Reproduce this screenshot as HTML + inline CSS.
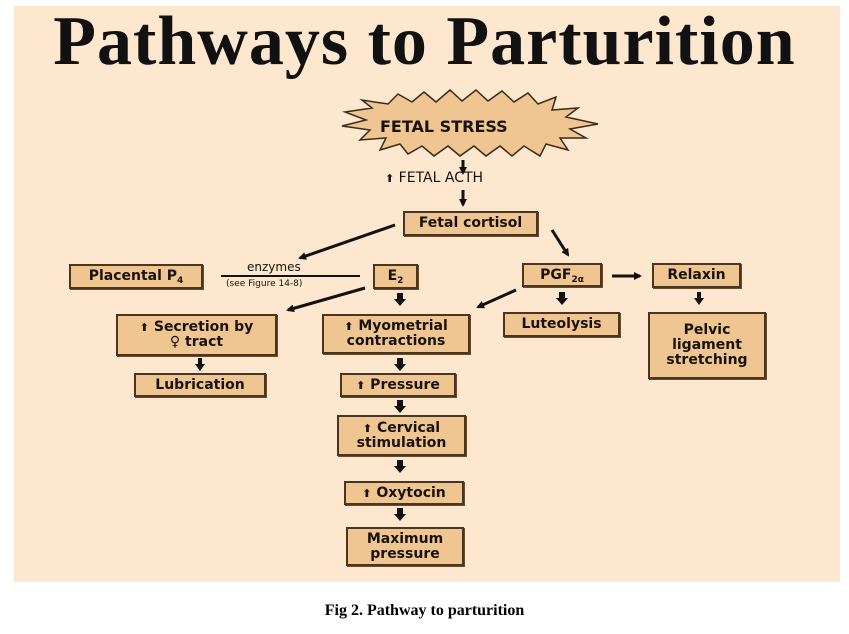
<!DOCTYPE html>
<html><head><meta charset="utf-8"><style>
body{margin:0;width:849px;height:634px;background:#fff;position:relative;overflow:hidden;font-family:"DejaVu Sans","Liberation Sans",sans-serif}
#img{position:absolute;left:14px;top:6px;width:826px;height:576px;background:#fde7cf}
.t{position:absolute;left:0;top:2px;width:849px;text-align:center;font-family:"Liberation Serif",serif;font-weight:bold;font-size:70px;color:#111;letter-spacing:1px}
.b{position:absolute;box-sizing:border-box;background:#efc592;border:2px solid #4a3520;box-shadow:1px 1px 0 #6b4b2a;display:flex;align-items:center;justify-content:center;text-align:center;font-weight:bold;font-size:14px;line-height:15px;color:#1a120a}
.l{position:absolute;font-size:14px;color:#1a120a}
.cap{position:absolute;left:0;top:602px;width:849px;text-align:center;font-family:"Liberation Serif",serif;font-weight:bold;font-size:16px}
sub{font-size:9px;vertical-align:-3px;line-height:0}
.u{font-size:11px}
</style></head><body>
<div id="img"></div>
<div class="t">Pathways to Parturition</div>
<svg style="position:absolute;left:0;top:0" width="849" height="634">
<defs><marker id="a" markerWidth="8" markerHeight="8" refX="6" refY="4" orient="auto" markerUnits="userSpaceOnUse"><path d="M0,0 L8,4 L0,8z" fill="#111"/></marker></defs>
<polygon fill="#efc592" stroke="#3a2a18" stroke-width="1.5" points="345,112 372,108 362,100 388,104 398,94 412,102 424,92 436,102 450,90 462,101 476,90 488,101 502,91 514,102 528,93 538,104 556,97 552,110 578,108 566,117 598,124 570,129 586,138 560,138 568,150 546,144 540,156 524,146 512,156 500,146 486,156 474,146 460,156 448,146 434,156 422,146 408,154 400,144 380,150 386,138 360,140 370,130 342,126 366,120"/>
<g stroke="#111" stroke-width="3" fill="none">
<line x1="463" y1="160" x2="463" y2="173" marker-end="url(#a)"/>
<line x1="463" y1="190" x2="463" y2="205" marker-end="url(#a)"/>
<line x1="395" y1="225" x2="300" y2="258" marker-end="url(#a)"/>
<line x1="552" y1="230" x2="568" y2="255" marker-end="url(#a)"/>
<line x1="365" y1="288" x2="288" y2="310" marker-end="url(#a)"/>
<line x1="516" y1="290" x2="478" y2="307" marker-end="url(#a)"/>
<line x1="612" y1="276" x2="640" y2="276" marker-end="url(#a)"/>
<line x1="221" y1="276" x2="360" y2="276" stroke-width="2"/>
</g>
<g fill="#111">
<path d="M397,293 h6 v6 h3 l-6,7 l-6,-7 h3z"/>
<path d="M559,292 h6 v6 h3 l-6,7 l-6,-7 h3z"/>
<path d="M697,292 h4 v6 h3 l-5,7 l-5,-7 h3z"/>
<path d="M198,358 h4 v6 h3 l-5,7 l-5,-7 h3z"/>
<path d="M397,358 h6 v6 h3 l-6,7 l-6,-7 h3z"/>
<path d="M397,400 h6 v6 h3 l-6,7 l-6,-7 h3z"/>
<path d="M397,460 h6 v6 h3 l-6,7 l-6,-7 h3z"/>
<path d="M397,508 h6 v6 h3 l-6,7 l-6,-7 h3z"/>
</g>
</svg>
<div class="l" style="left:380px;top:117px;font-weight:bold;font-size:16px">FETAL STRESS</div>
<div class="l" style="left:385px;top:170px;font-size:14px"><span class="u">⬆</span> FETAL ACTH</div>
<div class="l" style="left:247px;top:260px;font-size:12px">enzymes</div>
<div class="l" style="left:226px;top:279px;font-size:9px">(see Figure 14-8)</div>
<div class="b" style="left:403px;top:211px;width:135px;height:25px">Fetal cortisol</div>
<div class="b" style="left:69px;top:264px;width:134px;height:25px"><span>Placental P<sub>4</sub></span></div>
<div class="b" style="left:373px;top:264px;width:45px;height:25px"><span>E<sub>2</sub></span></div>
<div class="b" style="left:522px;top:263px;width:80px;height:24px"><span>PGF<sub>2α</sub></span></div>
<div class="b" style="left:652px;top:263px;width:89px;height:25px">Relaxin</div>
<div class="b" style="left:116px;top:314px;width:161px;height:42px"><span><span class="u">⬆</span> Secretion by<br>♀ tract</span></div>
<div class="b" style="left:322px;top:314px;width:148px;height:40px"><span><span class="u">⬆</span> Myometrial<br>contractions</span></div>
<div class="b" style="left:503px;top:312px;width:117px;height:25px">Luteolysis</div>
<div class="b" style="left:648px;top:312px;width:118px;height:67px">Pelvic<br>ligament<br>stretching</div>
<div class="b" style="left:134px;top:373px;width:132px;height:24px">Lubrication</div>
<div class="b" style="left:340px;top:373px;width:116px;height:24px"><span><span class="u">⬆</span> Pressure</span></div>
<div class="b" style="left:337px;top:415px;width:129px;height:41px"><span><span class="u">⬆</span> Cervical<br>stimulation</span></div>
<div class="b" style="left:344px;top:481px;width:120px;height:24px"><span><span class="u">⬆</span> Oxytocin</span></div>
<div class="b" style="left:346px;top:527px;width:118px;height:39px">Maximum<br>pressure</div>
<div class="cap">Fig 2. Pathway to parturition</div>
</body></html>
